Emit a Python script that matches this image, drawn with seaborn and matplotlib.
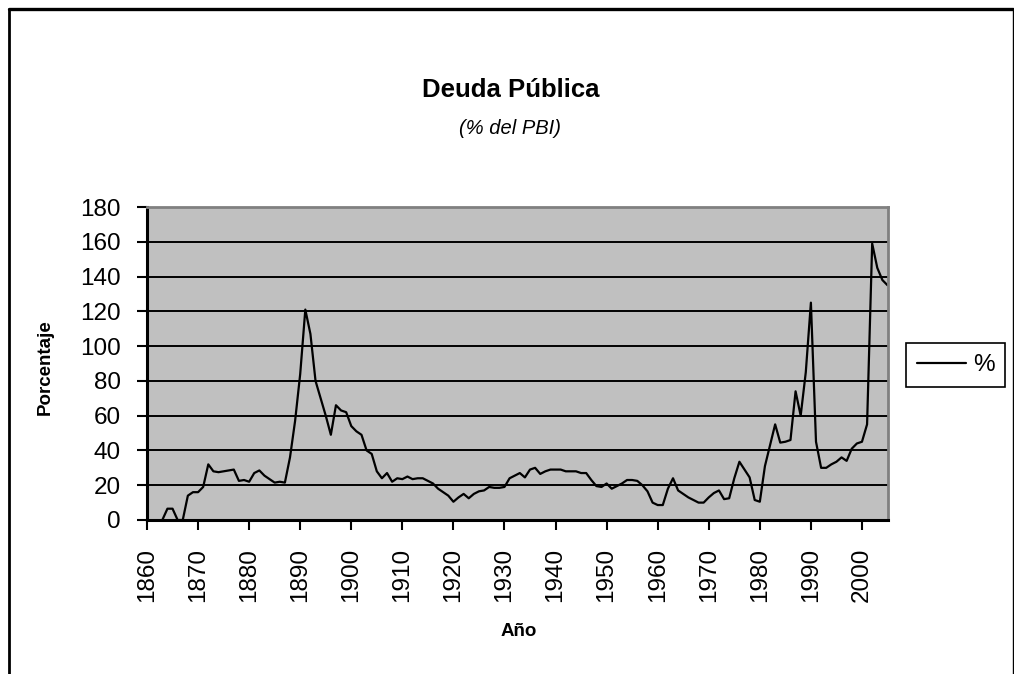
import numpy as np
import pandas as pd
import seaborn as sns
import matplotlib.pyplot as plt
from matplotlib.lines import Line2D

# Deuda pública (% del PBI), valores anuales
years = list(range(1860, 2006))
deuda = [
    np.nan, np.nan, np.nan, 0, 6.5, 6.5, 0, 0, 14, 16,          # 1860-1869
    16, 19, 32, 28, 27.5, 28, 28.5, 29, 22.5, 23,              # 1870-1879
    22, 27, 28.5, 25.5, 23.5, 21.5, 22, 21.5, 36, 57,          # 1880-1889
    84, 121, 107, 80, 70, 60, 49, 66, 63, 62,                  # 1890-1899
    54, 51, 49, 40, 38, 28, 24, 27, 22, 24,                    # 1900-1909
    23.5, 25, 23.5, 24, 24, 22.5, 21, 18, 16, 14,              # 1910-1919
    10.5, 13, 15, 12.5, 15, 16.5, 17, 19, 18.5, 18.5,          # 1920-1929
    19, 24, 25.5, 27, 24.5, 29, 30, 26.5, 28, 29,              # 1930-1939
    29, 29, 28, 28, 28, 27, 27, 23, 19.5, 19,                  # 1940-1949
    21, 18, 19.5, 21, 23, 23, 22.5, 20, 16.5, 10,              # 1950-1959
    8.6, 8.6, 18, 24, 17, 15, 13, 11.5, 10, 10,                # 1960-1969
    13, 15.5, 17, 12, 12.5, 24, 33.5, 29, 24.5, 11.5,          # 1970-1979
    10.5, 31, 43, 55, 44.5, 45, 46, 74, 60, 85,                # 1980-1989
    125, 45, 30, 30, 32, 33.5, 36, 34, 41, 44,                 # 1990-1999
    45, 55, 159, 145, 138, 135,                                # 2000-2005
]
tick_years = list(range(1860, 2001, 10))
y_ticks = list(range(0, 181, 20))

df = pd.DataFrame({"Año": years, "%": deuda})

sns.set_style("white")
plt.rcParams["font.family"] = ["Liberation Sans", "DejaVu Sans"]
plt.rcParams["text.color"] = "black"
plt.rcParams["xtick.color"] = "black"
plt.rcParams["ytick.color"] = "black"
plt.rcParams["axes.labelcolor"] = "black"

fig = plt.figure(figsize=(10.14, 6.74), dpi=100)
ax = fig.add_axes([147 / 1014, 1 - 520 / 674, 740.5 / 1014, 313 / 674])
ax.set_facecolor("#C0C0C0")

sns.lineplot(data=df, x="Año", y="%", color="black", linewidth=1.6,
             errorbar=None, label="%", ax=ax)

ax.set_xlim(1860, 2005)
ax.set_ylim(0, 180)
ax.set_xticks(tick_years)
ax.set_xticklabels([str(t) for t in tick_years], rotation=90, fontsize=17.5)
ax.set_yticks(y_ticks)
ax.set_yticklabels([str(t) for t in y_ticks], fontsize=17.5)
ax.tick_params(axis="y", direction="out", length=7, width=1.5, pad=12,
               colors="black", left=True)
ax.tick_params(axis="x", direction="out", length=7, width=1.5, pad=13,
               colors="black", bottom=True)

ax.set_axisbelow(True)
ax.yaxis.grid(True, color="black", linewidth=1.4)
ax.xaxis.grid(False)

for side in ["left", "bottom"]:
    ax.spines[side].set_color("black")
    ax.spines[side].set_linewidth(2.2)
for side in ["top", "right"]:
    ax.spines[side].set_color("#808080")
    ax.spines[side].set_linewidth(2.0)

ax.set_xlabel("")
ax.set_ylabel("")
fig.text(45 / 1014, 1 - 367 / 674, "Porcentaje", rotation=90, ha="center",
         va="center", fontsize=13.5, fontweight="bold")
fig.text(519 / 1014, 1 - 631 / 674, "Año", ha="center", va="center",
         fontsize=13.5, fontweight="bold")

fig.text(511 / 1014, 1 - 90 / 674, "Deuda Pública", ha="center", va="center",
         fontsize=18.5, fontweight="bold")
fig.text(510 / 1014, 1 - 129 / 674, "(% del PBI)", ha="center", va="center",
         fontsize=14.5, style="italic")

leg = ax.legend(loc="center left", bbox_to_anchor=(906 / 1014, 1 - 365 / 674),
                bbox_transform=fig.transFigure, fontsize=17.5, frameon=True,
                fancybox=False, shadow=False, borderaxespad=0, borderpad=0.45,
                handlelength=2.0, handletextpad=0.3)
leg.get_frame().set_edgecolor("black")
leg.get_frame().set_linewidth(1.2)
leg.get_frame().set_facecolor("white")
leg.get_frame().set_alpha(1)

# marco exterior del gráfico (recortado abajo)
top_y = 1 - 8.5 / 674
fig.add_artist(Line2D([8.5 / 1014, 1012.5 / 1014], [top_y, top_y],
                      transform=fig.transFigure, color="black", linewidth=2.4))
fig.add_artist(Line2D([8.5 / 1014, 8.5 / 1014], [top_y, 0],
                      transform=fig.transFigure, color="black", linewidth=2.0))
fig.add_artist(Line2D([1012.5 / 1014, 1012.5 / 1014], [top_y, 0],
                      transform=fig.transFigure, color="black", linewidth=1.0))

fig.savefig("out.png", dpi=100)
